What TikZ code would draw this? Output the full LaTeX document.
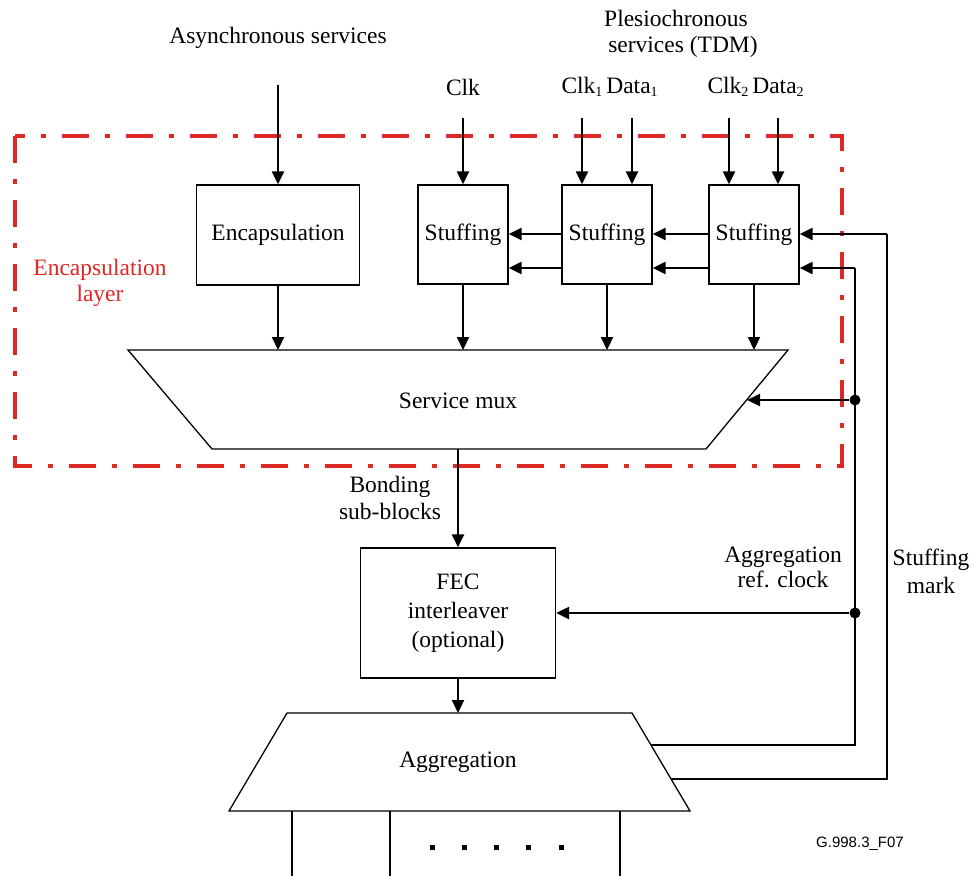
\documentclass[tikz,border=0pt]{standalone}
\usepackage{fontspec}
\setmainfont{Liberation Serif}
\newfontfamily\figsans{Liberation Sans}
\usetikzlibrary{arrows.meta}
\definecolor{layerred}{RGB}{222,40,36}
\newcommand{\lowidx}[1]{\raisebox{-0.3ex}{\fontsize{14}{14}\selectfont #1}}
\begin{document}
\begin{tikzpicture}[x=1pt,y=-1pt,
  font=\fontsize{23.5}{27}\selectfont,
  blk/.style={draw, line width=1.3pt, inner sep=0pt},
  arr/.style={-{Triangle[length=13pt,width=12pt]}, line width=2.2pt},
  wire/.style={line width=2.2pt},
  txt/.style={align=center, inner sep=0pt},
  layer/.style={draw=layerred, line width=4pt,
    dash pattern=on 27pt off 16pt on 5pt off 16pt},
  junction/.style={circle, fill, inner sep=0pt, minimum size=11pt},
  ]
\useasboundingbox (0,0) rectangle (972,876);

% encapsulation layer frame
\draw[layer] (15,136) rectangle (842,466);
\node[txt, text=layerred, font=\fontsize{23.5}{26}\selectfont] (laylbl) at (100,283) {Encapsulation\\layer};

% top labels
\node[txt] (asynclbl) at (278,38) {Asynchronous services};
\node[txt, font=\fontsize{23.5}{26}\selectfont] (plesiolbl) at (676,34) {Plesiochronous\\\hspace*{14pt}services (TDM)};
\node[txt] (clk0lbl) at (463,87) {Clk};
\node[txt] (clk1lbl) at (582,87) {Clk\lowidx{1}};
\node[txt] (dat1lbl) at (632,87) {Data\lowidx{1}};
\node[txt] (clk2lbl) at (728,87) {Clk\lowidx{2}};
\node[txt] (dat2lbl) at (778,87) {Data\lowidx{2}};

% input stubs
\coordinate (inA) at (278,85);
\coordinate (inB) at (463,118);
\coordinate (inC) at (582,118);
\coordinate (inD) at (632,118);
\coordinate (inE) at (729,118);
\coordinate (inF) at (778,118);

% blocks
\node[blk, minimum width=163pt, minimum height=100pt] (encap) at (278,235) {Encapsulation};
\node[blk, minimum width=90pt, minimum height=99pt] (stuff1) at (463,234.5) {Stuffing};
\node[blk, minimum width=90pt, minimum height=99pt] (stuff2) at (607,234.5) {Stuffing};
\node[blk, minimum width=90pt, minimum height=99pt] (stuff3) at (754,234.5) {Stuffing};

\draw[arr] (inA) -- (encap.north);
\draw[arr] (inB) -- (stuff1.north);
\draw[arr] (inC) -- (inC |- stuff2.north);
\draw[arr] (inD) -- (inD |- stuff2.north);
\draw[arr] (inE) -- (inE |- stuff3.north);
\draw[arr] (inF) -- (inF |- stuff3.north);

% stuffing chain rows
\coordinate (rowA) at (0,234);
\coordinate (rowB) at (0,268);
\draw[arr] (stuff3.west |- rowA) -- (stuff2.east |- rowA);
\draw[arr] (stuff3.west |- rowB) -- (stuff2.east |- rowB);
\draw[arr] (stuff2.west |- rowA) -- (stuff1.east |- rowA);
\draw[arr] (stuff2.west |- rowB) -- (stuff1.east |- rowB);

% service mux
\draw[line width=1.3pt] (128,350) -- (788,350) -- (706,449) -- (212,449) -- cycle;
\node[txt] (mux) at (458,401) {Service mux};
\coordinate (muxtop) at (0,350);
\coordinate (muxbot) at (458,449);
\coordinate (muxE) at (747,400);

\draw[arr] (encap.south) -- (encap.south |- muxtop);
\draw[arr] (stuff1.south) -- (stuff1.south |- muxtop);
\draw[arr] (stuff2.south) -- (stuff2.south |- muxtop);
\draw[arr] (stuff3.south) -- (stuff3.south |- muxtop);

% FEC
\node[blk, minimum width=195pt, minimum height=130pt, align=center,
      font=\fontsize{23.5}{29}\selectfont] (fec) at (458,613) {FEC\\interleaver\\(optional)};
\draw[arr] (muxbot) -- (fec.north);
\node[txt] (bondlbl) at (390,498) {Bonding\\sub-blocks};

% aggregation
\draw[line width=1.3pt] (287,713) -- (632,713) -- (690,811) -- (229,811) -- cycle;
\node[txt] (agg) at (458,762) {Aggregation};
\coordinate (aggtop) at (458,713);
\coordinate (aggA) at (651,745);
\coordinate (aggB) at (671,779);
\draw[arr] (fec.south) -- (aggtop);

% reference clock and stuffing mark feedback
\coordinate (clkX) at (855,0);
\coordinate (mrkX) at (887,0);
\node[junction] (jmux) at (855,400) {};
\node[junction] (jfec) at (855,613) {};
\draw[wire] (aggA) -- (aggA -| clkX) -- (clkX |- rowB);
\draw[arr] (clkX |- rowB) -- (stuff3.east |- rowB);
\draw[arr] (jmux) -- (muxE);
\draw[arr] (jfec) -- (fec.east |- jfec);
\draw[wire] (aggB) -- (aggB -| mrkX) -- (mrkX |- rowA);
\draw[arr] (mrkX |- rowA) -- (stuff3.east |- rowA);

\node[txt, font=\fontsize{23.5}{25}\selectfont] (reflbl) at (783,567) {Aggregation\\ref. clock};
\node[txt, font=\fontsize{23.5}{28}\selectfont] (mrklbl) at (931,571) {Stuffing\\mark};

% bonded lines below aggregation
\coordinate (outA) at (292,811);
\coordinate (outB) at (390,811);
\coordinate (outC) at (620,811);
\foreach \p in {outA,outB,outC} \draw[line width=2pt] (\p) -- ++(0,65);
\foreach \x in {432,464,496,528,561} \fill (\x-2.5,844.5) rectangle ++(5,5);

\node[txt, font=\figsans\fontsize{15}{18}\selectfont] (figid) at (860,844) {G.998.3\_F07};
\end{tikzpicture}
\end{document}
